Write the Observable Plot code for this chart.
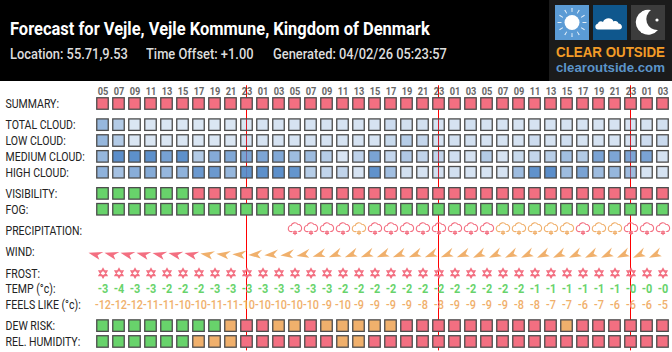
<!DOCTYPE html>
<html>
<head>
<meta charset="utf-8">
<script src="https://cdn.jsdelivr.net/npm/d3@7"></script>
<script src="https://cdn.jsdelivr.net/npm/@observablehq/plot@0.6"></script>
<style>
html,body{margin:0;padding:0;background:#fff;width:672px;height:352px;overflow:hidden;font-family:Roboto,sans-serif}
#head{position:relative;width:672px;height:81px;background:#000;color:#fff;overflow:hidden}
#head span{position:absolute;white-space:nowrap;transform-origin:left center;line-height:1}
.title{left:10px;top:20px;font-size:18px;font-weight:700;transform:scaleX(.915)}
.sub{top:47px;font-size:14px;font-weight:500;color:#ddd;transform:scaleX(.92)}
#logo{position:absolute;left:549px;top:0}
#chart svg{display:block}
</style>
</head>
<body>
<div id="head">
  <span class="title">Forecast for Vejle, Vejle Kommune, Kingdom of Denmark</span>
  <span class="sub" style="left:10px">Location: 55.71,9.53</span>
  <span class="sub" style="left:146px">Time Offset: +1.00</span>
  <span class="sub" style="left:273px">Generated: 04/02/26 05:23:57</span>
  <svg id="logo" width="123" height="81" viewBox="0 0 123 81">
    <rect width="123" height="81" fill="#1b1b1b"/>
    <rect x="6" y="5" width="34" height="35" fill="#5b9bd5"/>
    <circle cx="23" cy="22.5" r="7.5" fill="#fff"/>
    <circle cx="23" cy="22.5" r="12.5" fill="none" stroke="#fff" stroke-opacity=".85" stroke-width="4" pathLength="120" stroke-dasharray="1.6 8.4" stroke-dashoffset=".8"/>
    <rect x="44" y="5" width="34" height="35" fill="#0f578d"/>
    <path d="M49 29.5c-3.5 0-3.5-5.5 0-6 .5-2.5 3.5-3 5-1.5 1.5-4.5 9-5 10.500-.5 2.500-1 4.500 0 5 2 4 .2 5 6 .5 6z" fill="#fff"/>
    <rect x="82" y="5" width="34" height="35" fill="#3c3c3c"/>
    <path d="M102 10a12.500 12.500 0 1 0 7 20a11 11 0 0 1-7-20z" fill="#fff"/>
    <circle cx="108" cy="20" r="1.600" fill="#fff"/><circle cx="88" cy="21" r="1" fill="#fff"/><circle cx="93" cy="32" r="1" fill="#fff"/><circle cx="94" cy="12" r=".8" fill="#fff"/>
    <text x="7" y="57.200" font-family="Liberation Sans" font-weight="700" font-size="14" fill="#f39c27" textLength="109" lengthAdjust="spacingAndGlyphs">CLEAR OUTSIDE</text>
    <text x="7" y="71.800" font-family="Liberation Sans" font-weight="700" font-size="12.500" fill="#5b94c9" textLength="109" lengthAdjust="spacingAndGlyphs">clearoutside.com</text>
  </svg>
</div>
<div id="chart"></div>
<script>
const G = "good", O = "fair", P = "poor";
const hours = ["05","07","09","11","13","15","17","19","21","23","01","03","05","07","09","11","13","15","17","19","21","23","01","03","05","07","09","11","13","15","17","19","21","23","01","03"];
const midnightCols = [9, 21, 33];
const rowNames = ["SUMMARY:","TOTAL CLOUD:","LOW CLOUD:","MEDIUM CLOUD:","HIGH CLOUD:","VISIBILITY:","FOG:","PRECIPITATION:","WIND:","FROST:","TEMP (°c):","FEELS LIKE (°c):","DEW RISK:","REL. HUMIDITY:"];
const summary = [P,P,P,P,P,P,P,P,P,P,P,P,P,P,P,P,P,P,P,P,P,P,P,P,P,P,P,P,P,P,P,P,P,P,P,P];
const totalCloud = [50,30,2,2,2,2,2,2,2,2,5,5,5,5,5,5,5,5,12,8,8,5,5,8,5,5,5,5,5,5,5,5,5,5,5,8];
const lowCloud = [50,30,2,2,2,2,2,2,2,5,5,5,5,5,5,5,5,5,15,28,18,5,8,8,5,5,5,12,5,10,5,5,5,5,12,14];
const mediumCloud = [50,92,90,90,72,90,30,62,65,70,68,65,45,45,28,3,22,70,18,32,20,20,10,6,30,5,15,18,26,42,30,70,68,68,70,6];
const highCloud = [55,40,60,62,50,55,80,80,50,88,90,90,85,28,20,20,5,88,42,8,5,8,8,5,5,5,45,88,92,45,70,45,50,45,5,5];
const visibility = [G,G,G,G,G,G,P,P,P,P,P,P,P,P,P,P,P,P,P,P,P,P,P,P,P,P,P,P,P,P,P,P,P,P,P,P];
const fog = [G,G,G,G,G,G,G,G,G,G,G,G,G,G,G,G,G,G,G,G,G,G,G,G,G,G,G,G,G,G,G,G,G,G,G,G];
const precipitation = [null,null,null,null,null,null,null,null,null,null,null,null,P,P,P,P,O,P,P,P,P,P,P,P,P,O,O,O,O,O,P,O,O,P,P,P];
const windLevel = [P,P,P,P,P,P,P,O,O,O,O,O,O,O,O,O,O,O,O,O,O,O,O,O,O,O,O,O,O,O,O,O,O,O,O,O];
const windFrom = [104,104,104,104,102,102,102,98,96,92,86,84,82,78,72,68,68,68,68,68,68,68,68,68,64,64,64,64,64,64,64,64,64,64,64,64];
const frost = [P,P,P,P,P,P,P,P,P,P,P,P,P,P,P,P,P,P,P,P,P,P,P,P,P,P,P,P,P,P,P,P,P,P,P,P];
const temp = ["-3","-4","-3","-3","-2","-2","-2","-3","-3","-3","-3","-3","-3","-3","-3","-2","-2","-2","-2","-2","-2","-2","-2","-2","-2","-2","-2","-1","-1","-1","-1","-1","-1","-0","-0","-0"];
const feelsLike = ["-12","-12","-12","-11","-11","-10","-10","-11","-11","-10","-10","-10","-10","-10","-9","-10","-9","-9","-9","-9","-8","-8","-9","-9","-9","-9","-8","-8","-7","-7","-6","-7","-6","-6","-6","-5"];
const dewRisk = [G,G,G,G,G,G,G,G,O,P,P,O,O,P,O,O,O,O,O,P,P,P,P,P,P,P,P,P,P,O,P,P,P,P,P,P];
const relHumidity = [G,G,G,G,G,G,O,O,O,P,P,P,P,P,P,O,O,P,P,P,P,P,P,P,P,P,P,P,P,P,P,P,P,P,P,P];

const cols = d3.range(hours.length);
const rowOf = (vals, row) => vals.map((v, col) => ({col, row, v}));

// y is a band scale of thin slots; each named row sits in the middle of three, with one spare slot between blocks.
const blockEnds = new Set(["SUMMARY:","HIGH CLOUD:","FOG:","PRECIPITATION:","WIND:","FEELS LIKE (°c):"]);
const slots = ["hours","_h"];
rowNames.forEach((r, i) => {
  slots.push(r);
  if (i < rowNames.length - 1) { slots.push(`_${i}a`, `_${i}b`); if (blockEnds.has(r)) slots.push(`_${i}c`); }
});
slots.push("_end");

const hexagram = {draw(c) {
  const R = 4.6;
  for (const s of [1, -1]) {
    for (let k = 0; k < 3; k++) {
      const a = 2 * Math.PI * k / 3 - Math.PI / 2;
      const x = R * Math.cos(a), y = s * R * Math.sin(a);
      k ? c.lineTo(x, y) : c.moveTo(x, y);
    }
    c.closePath();
  }
}};
const snowCloud = {draw(c) {
  c.moveTo(-2.6, 0.6);
  c.bezierCurveTo(-5.5, 1.2, -7.2, -0.6, -6.6, -3.1);
  c.bezierCurveTo(-6.2, -5, -4.6, -5.6, -3.8, -5.4);
  c.bezierCurveTo(-3, -8.4, 1, -9.1, 2.8, -6.6);
  c.bezierCurveTo(5, -6.6, 7, -4.6, 6.6, -2.1);
  c.bezierCurveTo(6.4, -0.1, 5, 0.8, 3.2, 0.6);
  for (const s of [1, -1]) {
    for (let k = 0; k < 3; k++) {
      const a = 2 * Math.PI * k / 3 - Math.PI / 2;
      const x = 1.7 * Math.cos(a), y = 1.8 + s * 1.7 * Math.sin(a);
      k ? c.lineTo(x, y) : c.moveTo(x, y);
    }
    c.closePath();
  }
}};
const windArrow = {draw(c) {
  c.moveTo(-7.2, 0); c.lineTo(7, -4.4); c.lineTo(2.2, 0.2); c.lineTo(5, 4.2); c.closePath();
}};

const statusRows = [
  rowOf(summary,"SUMMARY:"), rowOf(visibility,"VISIBILITY:"), rowOf(fog,"FOG:"),
  rowOf(dewRisk,"DEW RISK:"), rowOf(relHumidity,"REL. HUMIDITY:")
].flat();
const cloudRows = [
  rowOf(totalCloud,"TOTAL CLOUD:"), rowOf(lowCloud,"LOW CLOUD:"),
  rowOf(mediumCloud,"MEDIUM CLOUD:"), rowOf(highCloud,"HIGH CLOUD:")
].flat();
const cellOpts = {x:"col", y:"row", stroke:"#4d4d4d", strokeWidth:1.3,
  insetLeft:2.25, insetRight:2.25, insetTop:-3.1, insetBottom:-3.1};

const svg = Plot.plot({
  width: 672, height: 271,
  marginLeft: 94.5, marginRight: 1.5, marginTop: 9.27, marginBottom: 2.6,
  style: {background:"transparent", fontFamily:"Roboto, sans-serif"},
  x: {type:"band", domain: cols, padding:0, round:false, axis:null},
  y: {type:"band", domain: slots, padding:0, round:false, axis:null},
  color: {type:"ordinal", domain:[G,O,P], range:["#68d36b","#f0b06c","#f36f81"]},
  opacity: {type:"linear", domain:[0,100], range:[0.19,1]},
  marks: [
    Plot.ruleX(midnightCols, {x:d=>d, stroke:"#ff0000", strokeWidth:1, dx:-0.5, insetTop:-5, insetBottom:-1}),
    Plot.cell(statusRows, {...cellOpts, fill:"v"}),
    Plot.cell(cloudRows, {...cellOpts, fill:"#4f86c6", fillOpacity:"v"}),
    Plot.text(hours, {x:(d,i)=>i, y:()=>"hours", text:d=>d, fontSize:11, fontWeight:700, fill:"#666", dy:-2}),
    Plot.text(rowNames, {y:d=>d, text:d=>d, frameAnchor:"left", textAnchor:"start", dx:-89.5, fontSize:13.5, fill:"#222", className:"lbl"}),
    Plot.dot(rowOf(precipitation,"PRECIPITATION:").filter(d=>d.v), {x:"col", y:"row", stroke:"v", symbol:snowCloud, r:4, strokeWidth:1.1, fill:"none"}),
    Plot.dot(rowOf(windLevel,"WIND:").map((d,i)=>({...d, from:windFrom[i]})), {x:"col", y:"row", fill:"v", symbol:windArrow, r:4, rotate:d=>d.from-90, dx:-7.5, dy:2.5}),
    Plot.dot(rowOf(frost,"FROST:"), {x:"col", y:"row", stroke:"v", symbol:hexagram, r:4, strokeWidth:1.3, fill:"none"}),
    Plot.text(rowOf(temp,"TEMP (°c):"), {x:"col", y:"row", text:"v", fill:"#68d36b", fontSize:13, fontWeight:700}),
    Plot.text(rowOf(feelsLike,"FEELS LIKE (°c):"), {x:"col", y:"row", text:"v", fill:"#f0b06c", fontSize:13, fontWeight:500})
  ]
});
svg.querySelectorAll("text").forEach(t => {
  const k = t.closest(".lbl") ? .78 : .84;
  t.setAttribute("transform", (t.getAttribute("transform") || "") + ` scale(${k},1)`);
});
document.getElementById("chart").append(svg);
</script>
</body>
</html>
